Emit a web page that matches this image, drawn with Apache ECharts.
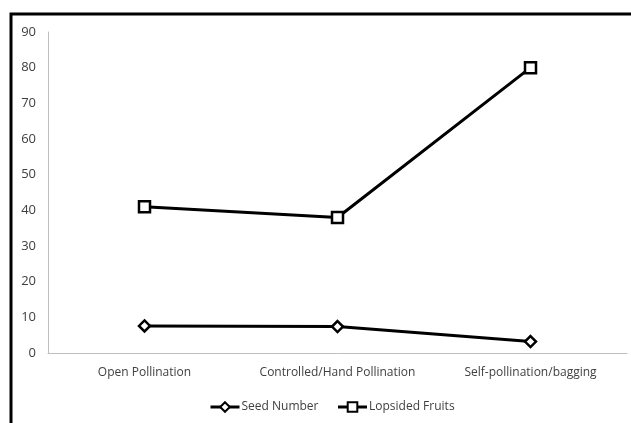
<!DOCTYPE html>
<html><head><meta charset="utf-8">
<script src="https://cdn.jsdelivr.net/npm/echarts@6/dist/echarts.min.js"></script>
<style>html,body{margin:0;padding:0;background:#fff}#c{width:631px;height:423px}</style>
</head><body><div id="c"></div>
<script>
const categories = ['Open Pollination', 'Controlled/Hand Pollination', 'Self-pollination/bagging'];
const seedNumber = [7.6, 7.4, 3.2];
const lopsidedFruits = [41, 38, 80];
const yTicks = {min: 0, max: 90, interval: 10};

const chart = echarts.init(document.getElementById('c'), null, {renderer: 'canvas'});
const font = '"Open Sans", "Liberation Sans", sans-serif';
chart.setOption({
  animation: false,
  backgroundColor: '#fff',
  graphic: [{
    type: 'rect', shape: {x: 11, y: 14, width: 700, height: 500},
    style: {fill: 'none', stroke: '#000', lineWidth: 3}, silent: true
  }],
  grid: {left: 48, top: 32, right: 4, bottom: 70, containLabel: false},
  xAxis: {
    type: 'category', data: categories, boundaryGap: true,
    axisLine: {lineStyle: {color: '#bfbfbf', width: 1}},
    axisTick: {show: false},
    axisLabel: {color: '#404040', fontFamily: font, fontSize: 12, margin: 14, interval: 0}
  },
  yAxis: {
    type: 'value', min: yTicks.min, max: yTicks.max, interval: yTicks.interval,
    axisLine: {show: true, lineStyle: {color: '#bfbfbf', width: 1}},
    axisTick: {show: false},
    splitLine: {show: false},
    axisLabel: {color: '#404040', fontFamily: font, fontSize: 13, margin: 12}
  },
  legend: {
    bottom: 5, left: 204, itemWidth: 29, itemHeight: 12, itemGap: 18,
    lineStyle: {width: 3},
    textStyle: {color: '#404040', fontFamily: font, fontSize: 12, padding: [0, 0, 0, -3]},
    data: ['Seed Number', 'Lopsided Fruits']
  },
  series: [{
    name: 'Seed Number', type: 'line', data: seedNumber,
    symbol: 'diamond', symbolSize: 11,
    lineStyle: {color: '#000', width: 3},
    itemStyle: {color: '#fff', borderColor: '#000', borderWidth: 2.5}
  }, {
    name: 'Lopsided Fruits', type: 'line', data: lopsidedFruits,
    symbol: 'rect', symbolSize: 11,
    lineStyle: {color: '#000', width: 3},
    itemStyle: {color: '#fff', borderColor: '#000', borderWidth: 2.5}
  }]
});
</script></body></html>
